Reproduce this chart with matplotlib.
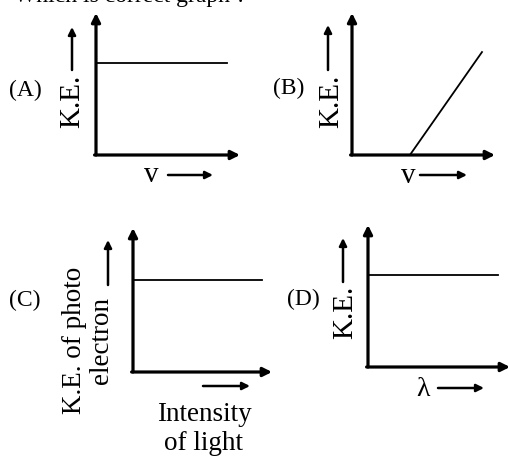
import matplotlib
matplotlib.use("Agg")
import matplotlib.pyplot as plt

W, H = 510, 458
plt.rcParams['font.family'] = ['Liberation Serif', 'DejaVu Serif']

# ---- data (schematic curves, axis units 0..1) ----
labels = ["(A)", "(B)", "(C)", "(D)"]
a_x = [0.0, 0.91]
a_ke = [0.648, 0.648]
b_x = [0.405, 0.909]
b_ke = [0.0, 0.725]
c_x = [0.0, 0.93]
c_ke = [0.639, 0.639]
d_x = [0.0, 0.915]
d_ke = [0.648, 0.648]
xlabels = ["v", "v", "Intensity\nof light", "λ"]
ylabels = ["K.E.", "K.E.", "K.E. of photo\nelectron", "K.E."]
title = "Which is correct graph ?"

fig = plt.figure(figsize=(W / 100, H / 100), dpi=100)


def fx(x):
    return x / W


def fy(y):
    return 1 - y / H


def make_axes(left, right, bottom, top):
    ax = fig.add_axes([fx(left), fy(bottom), fx(right - left), (bottom - top) / H])
    ax.set_xlim(0, 1)
    ax.set_ylim(0, 1)
    ax.axis('off')
    # axis arrows
    ax.annotate('', xy=(0, 1), xytext=(0, 0), xycoords='axes fraction',
                arrowprops=dict(arrowstyle='-|>', lw=2.3, color='black',
                                mutation_scale=13, shrinkA=0, shrinkB=0))
    ax.annotate('', xy=(1, 0), xytext=(-0.01, 0), xycoords='axes fraction',
                arrowprops=dict(arrowstyle='-|>', lw=2.3, color='black',
                                mutation_scale=13, shrinkA=0, shrinkB=0))
    return ax


def arrow(x0, y0, x1, y1):
    fig.add_artist(matplotlib.patches.FancyArrowPatch(
        (fx(x0), fy(y0)), (fx(x1), fy(y1)), transform=fig.transFigure,
        arrowstyle='-|>', lw=1.8, color='black', mutation_scale=11,
        shrinkA=0, shrinkB=0))


def text(x, y, s, size=17, rot=0, **kw):
    fig.text(fx(x), fy(y), s, fontsize=size, rotation=rot,
             ha='center', va='center', **kw)


# title (cut off at top)
fig.text(fx(14), fy(2), title, fontsize=17, ha='left', va='baseline')

# Panel A
axA = make_axes(96, 240, 155, 13)
axA.plot(a_x, a_ke, color='black', lw=1.3)
text(25, 90, labels[0])
text(72, 101, ylabels[0], size=21, rot=90)
arrow(72, 70, 72, 27)
text(151, 175, xlabels[0], size=21)
arrow(168, 175, 213, 175)

# Panel B
axB = make_axes(352, 495, 155, 13)
axB.plot(b_x, b_ke, color='black', lw=1.3)
text(289, 88, labels[1])
text(331, 101, ylabels[1], size=21, rot=90)
arrow(328, 70, 328, 25)
text(408, 176, xlabels[1], size=21)
arrow(420, 175, 467, 175)

# Panel C
axC = make_axes(133, 272, 372, 228)
axC.plot(c_x, c_ke, color='black', lw=1.3)
text(25, 300, labels[2])
text(88, 340, ylabels[2], size=19.5, rot=90, linespacing=1.1)
arrow(108, 285, 108, 240)
text(204, 429, xlabels[2], size=19.5, linespacing=1.2)
arrow(203, 386, 250, 386)

# Panel D
axD = make_axes(368, 510, 367, 225)
axD.plot(d_x, d_ke, color='black', lw=1.3)
text(303, 299, labels[3])
text(345, 312, ylabels[3], size=21, rot=90)
arrow(343, 282, 343, 238)
text(423, 390, xlabels[3], size=20)
arrow(438, 388, 484, 388)

fig.savefig("out.png", dpi=100)
